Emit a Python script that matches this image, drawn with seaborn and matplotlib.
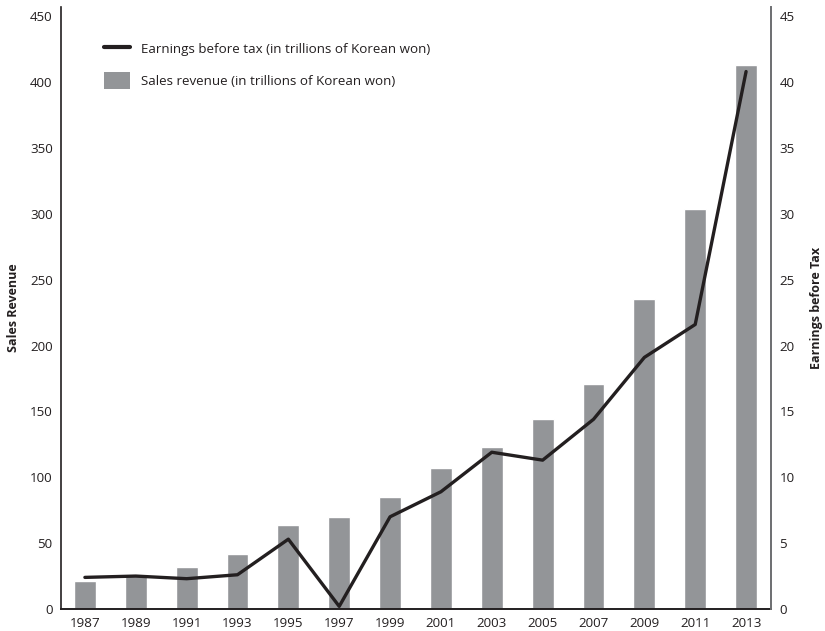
import numpy as np
import pandas as pd
import matplotlib
matplotlib.use("Agg")
import matplotlib.pyplot as plt
import seaborn as sns
from matplotlib.lines import Line2D
from matplotlib.patches import Patch

# data
years = ['1987', '1989', '1991', '1993', '1995', '1997', '1999',
         '2001', '2003', '2005', '2007', '2009', '2011', '2013']
sales = [21, 26, 32, 42, 64, 70, 85, 107, 123, 144, 171, 235, 304, 413]
earnings = [2.4, 2.5, 2.3, 2.6, 5.3, 0.2, 7.0, 8.9, 11.9, 11.3, 14.4, 19.1, 21.6, 40.8]

df = pd.DataFrame({'year': years, 'sales': sales, 'earnings': earnings})
df['pos'] = np.arange(len(df))

sns.set_style('white')
plt.rcParams['font.family'] = ['Open Sans', 'DejaVu Sans']

ink = '#231f20'
bar_col = '#939598'
fs = 9.6

fig = plt.figure(figsize=(8.25, 6.31), dpi=100)
ax = fig.add_axes([61 / 825, 22 / 631, 710 / 825, 602 / 631])

sns.barplot(data=df, x='year', y='sales', color=bar_col, width=0.43,
            saturation=1, ax=ax)
ax.set_xlim(-0.47, 13.49)
ax.set_ylim(0, 457)
ax.set_yticks(np.arange(0, 451, 50))

ax2 = ax.twinx()
sns.lineplot(data=df, x='pos', y='earnings', color=ink, linewidth=2.4, ax=ax2)
ax2.set_ylim(0, 45.7)
ax2.set_yticks(np.arange(0, 46, 5))
ax2.set_xlim(-0.47, 13.49)

for a in (ax, ax2):
    for s in a.spines.values():
        s.set_visible(False)
    a.tick_params(length=0, labelsize=fs, colors=ink, pad=6)
ax.spines['left'].set_visible(True)
ax.spines['bottom'].set_visible(True)
ax2.spines['right'].set_visible(True)
ax.spines['left'].set_color(ink)
ax.spines['bottom'].set_color(ink)
ax2.spines['right'].set_color('#6d6e71')
ax.spines['left'].set_linewidth(1.2)
ax.spines['bottom'].set_linewidth(1.4)
ax2.spines['right'].set_linewidth(1.4)

ax.set_xlabel('')
ax.set_ylabel('Sales Revenue', fontsize=9, fontweight='bold', color=ink, labelpad=7)
ax2.set_ylabel('Earnings before Tax', fontsize=9, fontweight='bold', color=ink,
               labelpad=11, rotation=90)

handles = [Line2D([0], [0], color=ink, linewidth=3),
           Patch(facecolor=bar_col, edgecolor='none')]
labels = ['Earnings before tax (in trillions of Korean won)',
          'Sales revenue (in trillions of Korean won)']
ax.legend(handles, labels, loc='upper left', bbox_to_anchor=(0.043, 0.965),
          frameon=False, fontsize=fs, labelcolor=ink, handlelength=2.0,
          handleheight=1.6, labelspacing=1.1, handletextpad=0.8)

fig.savefig('out.png', dpi=100)
